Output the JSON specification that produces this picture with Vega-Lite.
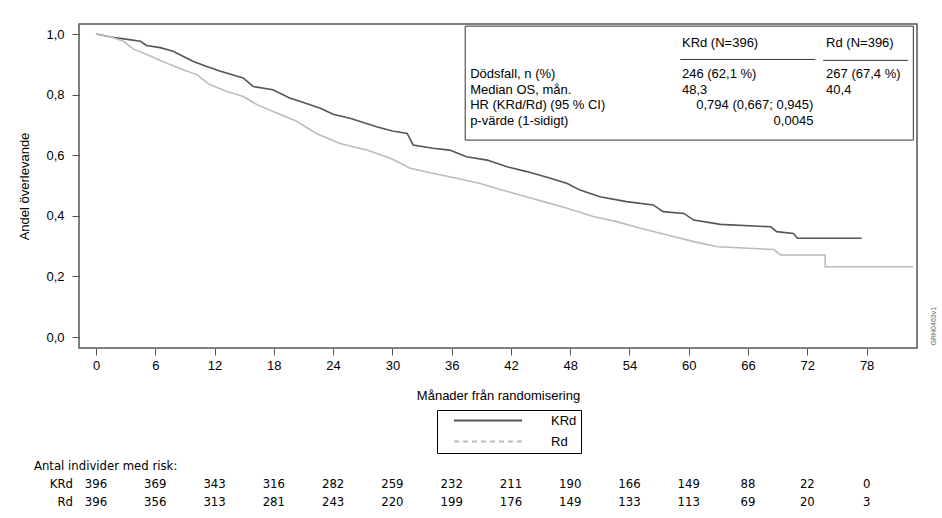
{
  "$schema": "https://vega.github.io/schema/vega-lite/v6.json",
  "width": 838,
  "height": 324,
  "autosize": {"type": "none"},
  "padding": {"left": 79, "top": 24, "right": 25, "bottom": 170},
  "background": "white",
  "config": {
    "font": "Liberation Sans",
    "view": {"stroke": "#555555", "strokeWidth": 1.5},
    "axis": {
      "domain": false,
      "grid": false,
      "tickSize": 7,
      "tickColor": "#555555",
      "labelFont": "Liberation Sans",
      "labelFontSize": 13,
      "labelColor": "#000000",
      "titleFont": "Liberation Sans",
      "titleFontSize": 13,
      "titleFontWeight": "normal",
      "titleColor": "#000000"
    },
    "text": {"font": "Liberation Sans", "fontSize": 13, "color": "#000000"}
  },
  "datasets": {
    "km": [
      {"arm": "KRd", "month": 0, "surv": 1.0},
      {"arm": "KRd", "month": 1.5, "surv": 0.99},
      {"arm": "KRd", "month": 3, "surv": 0.983},
      {"arm": "KRd", "month": 4.5, "surv": 0.976},
      {"arm": "KRd", "month": 5.1, "surv": 0.962},
      {"arm": "KRd", "month": 6.5, "surv": 0.955},
      {"arm": "KRd", "month": 7.8, "surv": 0.943},
      {"arm": "KRd", "month": 9.8, "surv": 0.91},
      {"arm": "KRd", "month": 11, "surv": 0.895},
      {"arm": "KRd", "month": 12.6, "surv": 0.877},
      {"arm": "KRd", "month": 14.9, "surv": 0.855},
      {"arm": "KRd", "month": 15.9, "surv": 0.827},
      {"arm": "KRd", "month": 17.9, "surv": 0.816},
      {"arm": "KRd", "month": 19.6, "surv": 0.789},
      {"arm": "KRd", "month": 20.7, "surv": 0.777},
      {"arm": "KRd", "month": 22.7, "surv": 0.755},
      {"arm": "KRd", "month": 24, "surv": 0.735},
      {"arm": "KRd", "month": 25.7, "surv": 0.722},
      {"arm": "KRd", "month": 28.4, "surv": 0.694},
      {"arm": "KRd", "month": 30, "surv": 0.68},
      {"arm": "KRd", "month": 31.5, "surv": 0.672},
      {"arm": "KRd", "month": 32.1, "surv": 0.634},
      {"arm": "KRd", "month": 34.1, "surv": 0.623},
      {"arm": "KRd", "month": 35.8, "surv": 0.617},
      {"arm": "KRd", "month": 37.5, "surv": 0.595},
      {"arm": "KRd", "month": 39.6, "surv": 0.584},
      {"arm": "KRd", "month": 41.6, "surv": 0.562},
      {"arm": "KRd", "month": 43.6, "surv": 0.546},
      {"arm": "KRd", "month": 46.0, "surv": 0.524},
      {"arm": "KRd", "month": 47.7, "surv": 0.507},
      {"arm": "KRd", "month": 49.0, "surv": 0.485},
      {"arm": "KRd", "month": 51.0, "surv": 0.463},
      {"arm": "KRd", "month": 53.7, "surv": 0.447},
      {"arm": "KRd", "month": 56.4, "surv": 0.436},
      {"arm": "KRd", "month": 57.4, "surv": 0.414},
      {"arm": "KRd", "month": 59.5, "surv": 0.408},
      {"arm": "KRd", "month": 60.5, "surv": 0.386},
      {"arm": "KRd", "month": 63.2, "surv": 0.372},
      {"arm": "KRd", "month": 68.3, "surv": 0.364},
      {"arm": "KRd", "month": 68.9, "surv": 0.348},
      {"arm": "KRd", "month": 70.6, "surv": 0.342},
      {"arm": "KRd", "month": 71.0, "surv": 0.326},
      {"arm": "KRd", "month": 77.5, "surv": 0.326},
      {"arm": "Rd", "month": 0, "surv": 1.0},
      {"arm": "Rd", "month": 1.5, "surv": 0.99},
      {"arm": "Rd", "month": 2.8, "surv": 0.976},
      {"arm": "Rd", "month": 3.8, "surv": 0.95},
      {"arm": "Rd", "month": 4.8, "surv": 0.937},
      {"arm": "Rd", "month": 6, "surv": 0.92},
      {"arm": "Rd", "month": 7.5, "surv": 0.899},
      {"arm": "Rd", "month": 8.8, "surv": 0.882},
      {"arm": "Rd", "month": 10.2, "surv": 0.866},
      {"arm": "Rd", "month": 11.5, "surv": 0.833},
      {"arm": "Rd", "month": 13.2, "surv": 0.811},
      {"arm": "Rd", "month": 14.9, "surv": 0.794},
      {"arm": "Rd", "month": 16.3, "surv": 0.767},
      {"arm": "Rd", "month": 18.3, "surv": 0.739},
      {"arm": "Rd", "month": 20.3, "surv": 0.712},
      {"arm": "Rd", "month": 22.3, "surv": 0.672},
      {"arm": "Rd", "month": 24.7, "surv": 0.639},
      {"arm": "Rd", "month": 27.4, "surv": 0.617},
      {"arm": "Rd", "month": 29.8, "surv": 0.59},
      {"arm": "Rd", "month": 31.8, "surv": 0.557},
      {"arm": "Rd", "month": 34.2, "surv": 0.54},
      {"arm": "Rd", "month": 36.5, "surv": 0.524},
      {"arm": "Rd", "month": 38.9, "surv": 0.507},
      {"arm": "Rd", "month": 40.9, "surv": 0.487},
      {"arm": "Rd", "month": 42.9, "surv": 0.469},
      {"arm": "Rd", "month": 45.3, "surv": 0.447},
      {"arm": "Rd", "month": 47.7, "surv": 0.425},
      {"arm": "Rd", "month": 50.4, "surv": 0.397},
      {"arm": "Rd", "month": 52.7, "surv": 0.381},
      {"arm": "Rd", "month": 55.1, "surv": 0.359},
      {"arm": "Rd", "month": 57.8, "surv": 0.337},
      {"arm": "Rd", "month": 60.5, "surv": 0.315},
      {"arm": "Rd", "month": 62.9, "surv": 0.298},
      {"arm": "Rd", "month": 68.6, "surv": 0.289},
      {"arm": "Rd", "month": 69.3, "surv": 0.271},
      {"arm": "Rd", "month": 73.8, "surv": 0.271},
      {"arm": "Rd", "month": 73.81, "surv": 0.232},
      {"arm": "Rd", "month": 82.7, "surv": 0.232}
    ],
    "risk": [
      {"arm": "KRd", "month": 0, "n": 396},
      {"arm": "KRd", "month": 6, "n": 369},
      {"arm": "KRd", "month": 12, "n": 343},
      {"arm": "KRd", "month": 18, "n": 316},
      {"arm": "KRd", "month": 24, "n": 282},
      {"arm": "KRd", "month": 30, "n": 259},
      {"arm": "KRd", "month": 36, "n": 232},
      {"arm": "KRd", "month": 42, "n": 211},
      {"arm": "KRd", "month": 48, "n": 190},
      {"arm": "KRd", "month": 54, "n": 166},
      {"arm": "KRd", "month": 60, "n": 149},
      {"arm": "KRd", "month": 66, "n": 88},
      {"arm": "KRd", "month": 72, "n": 22},
      {"arm": "KRd", "month": 78, "n": 0},
      {"arm": "Rd", "month": 0, "n": 396},
      {"arm": "Rd", "month": 6, "n": 356},
      {"arm": "Rd", "month": 12, "n": 313},
      {"arm": "Rd", "month": 18, "n": 281},
      {"arm": "Rd", "month": 24, "n": 243},
      {"arm": "Rd", "month": 30, "n": 220},
      {"arm": "Rd", "month": 36, "n": 199},
      {"arm": "Rd", "month": 42, "n": 176},
      {"arm": "Rd", "month": 48, "n": 149},
      {"arm": "Rd", "month": 54, "n": 133},
      {"arm": "Rd", "month": 60, "n": 113},
      {"arm": "Rd", "month": 66, "n": 69},
      {"arm": "Rd", "month": 72, "n": 20},
      {"arm": "Rd", "month": 78, "n": 3}
    ],
    "info": [
      {"row": "hdr", "label": "", "krd": "KRd (N=396)", "rd": "Rd (N=396)", "comb": ""},
      {"row": "d", "label": "Dödsfall, n (%)", "krd": "246 (62,1 %)", "rd": "267 (67,4 %)", "comb": ""},
      {"row": "m", "label": "Median OS, mån.", "krd": "48,3", "rd": "40,4", "comb": ""},
      {"row": "h", "label": "HR (KRd/Rd) (95 % CI)", "krd": "", "rd": "", "comb": "0,794 (0,667; 0,945)"},
      {"row": "p", "label": "p-värde (1-sidigt)", "krd": "", "rd": "", "comb": "0,0045"}
    ]
  },
  "layer": [
    {
      "layer": [
        {
          "data": {"values": [{}]},
          "mark": {"type": "rect", "fill": "white", "stroke": "#333333", "strokeWidth": 1},
          "encoding": {
            "x": {"datum": 37.37, "type": "quantitative"},
            "x2": {"datum": 82.73},
            "y": {"datum": 1.026, "type": "quantitative"},
            "y2": {"datum": 0.65}
          }
        },
        {
          "data": {"values": [{}]},
          "mark": {"type": "rule", "stroke": "#333333", "strokeWidth": 1},
          "encoding": {
            "x": {"datum": 59.14, "type": "quantitative"},
            "x2": {"datum": 72.81},
            "y": {"datum": 0.916, "type": "quantitative"}
          }
        },
        {
          "data": {"values": [{}]},
          "mark": {"type": "rule", "stroke": "#333333", "strokeWidth": 1},
          "encoding": {
            "x": {"datum": 73.6, "type": "quantitative"},
            "x2": {"datum": 82.2},
            "y": {"datum": 0.913, "type": "quantitative"}
          }
        },
        {
          "data": {"values": [{"code": "GRH0463v1"}]},
          "mark": {"type": "text", "angle": 270, "fontSize": 7, "color": "#666666", "align": "center", "baseline": "middle"},
          "encoding": {
            "x": {"datum": 84.86, "type": "quantitative"},
            "y": {"datum": 0.036, "type": "quantitative"},
            "text": {"field": "code"}
          }
        },
        {
          "data": {"name": "km"},
          "mark": {"type": "line", "strokeWidth": 1.6, "interpolate": "linear"},
          "encoding": {
            "x": {
              "field": "month",
              "type": "quantitative",
              "scale": {"domain": [-1.72, 83.1], "nice": false, "zero": false},
              "axis": {
                "title": "Månader från randomisering",
                "values": [0, 6, 12, 18, 24, 30, 36, 42, 48, 54, 60, 66, 72, 78],
                "format": "d",
                "labelPadding": 4,
                "titlePadding": 17
              }
            },
            "y": {
              "field": "surv",
              "type": "quantitative",
              "scale": {"domain": [-0.036, 1.033], "nice": false, "zero": false},
              "axis": {
                "title": "Andel överlevande",
                "values": [0, 0.2, 0.4, 0.6, 0.8, 1.0],
                "labelExpr": "replace(format(datum.value, '.1f'), '.', ',')",
                "labelPadding": 8,
                "titlePadding": 14
              }
            },
            "color": {
              "field": "arm",
              "type": "nominal",
              "scale": {"domain": ["KRd", "Rd"], "range": ["#555555", "#bcbcbc"]},
              "legend": {
                "title": null,
                "orient": "none",
                "legendX": 358,
                "legendY": 386,
                "direction": "vertical",
                "symbolType": "stroke",
                "symbolSize": 4624,
                "symbolStrokeWidth": 2,
                "symbolOffset": 12,
                "labelFont": "Liberation Sans",
                "labelFontSize": 13,
                "labelColor": "#000000",
                "labelOffset": 28,
                "strokeColor": "#000000",
                "padding": 4,
                "clipHeight": 13,
                "rowPadding": 7,
                "encode": {
                  "symbols": {
                    "update": {
                      "strokeDash": {"signal": "datum.value === 'Rd' ? [5, 4] : [1, 0]"}
                    }
                  }
                }
              }
            }
          }
        }
      ]
    },
    {
      "data": {"name": "info"},
      "encoding": {
        "y": {
          "field": "row",
          "type": "nominal",
          "scale": {"type": "point", "domain": ["hdr", "gap", "d", "m", "h", "p"], "range": [19, 96.5], "padding": 0},
          "axis": null
        }
      },
      "layer": [
        {
          "mark": {"type": "text", "align": "left", "baseline": "middle"},
          "encoding": {"x": {"datum": 37.87, "type": "quantitative"}, "text": {"field": "label"}}
        },
        {
          "mark": {"type": "text", "align": "left", "baseline": "middle"},
          "encoding": {"x": {"datum": 59.31, "type": "quantitative"}, "text": {"field": "krd"}}
        },
        {
          "mark": {"type": "text", "align": "left", "baseline": "middle"},
          "encoding": {"x": {"datum": 73.9, "type": "quantitative"}, "text": {"field": "rd"}}
        },
        {
          "mark": {"type": "text", "align": "right", "baseline": "middle"},
          "encoding": {"x": {"datum": 72.61, "type": "quantitative"}, "text": {"field": "comb"}}
        }
      ]
    },
    {
      "encoding": {
        "y": {
          "field": "arm",
          "type": "nominal",
          "scale": {"type": "point", "domain": ["hdr", "KRd", "Rd"], "range": [442, 478], "padding": 0},
          "axis": null
        }
      },
      "layer": [
        {
          "data": {"name": "risk"},
          "mark": {"type": "text", "align": "center", "baseline": "middle", "font": "Liberation Sans Narrow, DejaVu Sans Condensed", "fontSize": 13},
          "encoding": {
            "x": {"field": "month", "type": "quantitative"},
            "text": {"field": "n"}
          }
        },
        {
          "data": {"values": [{"arm": "KRd"}, {"arm": "Rd"}]},
          "mark": {"type": "text", "align": "right", "baseline": "middle", "font": "Liberation Sans Narrow, DejaVu Sans Condensed", "fontSize": 13},
          "encoding": {
            "x": {"datum": -2.33, "type": "quantitative"},
            "text": {"field": "arm"}
          }
        },
        {
          "data": {"values": [{"arm": "hdr", "label": "Antal individer med risk:"}]},
          "mark": {"type": "text", "align": "left", "baseline": "middle", "font": "Liberation Sans Narrow, DejaVu Sans Condensed", "fontSize": 13},
          "encoding": {
            "x": {"datum": -6.28, "type": "quantitative"},
            "text": {"field": "label"}
          }
        }
      ]
    }
  ],
  "resolve": {"scale": {"y": "independent"}}
}
